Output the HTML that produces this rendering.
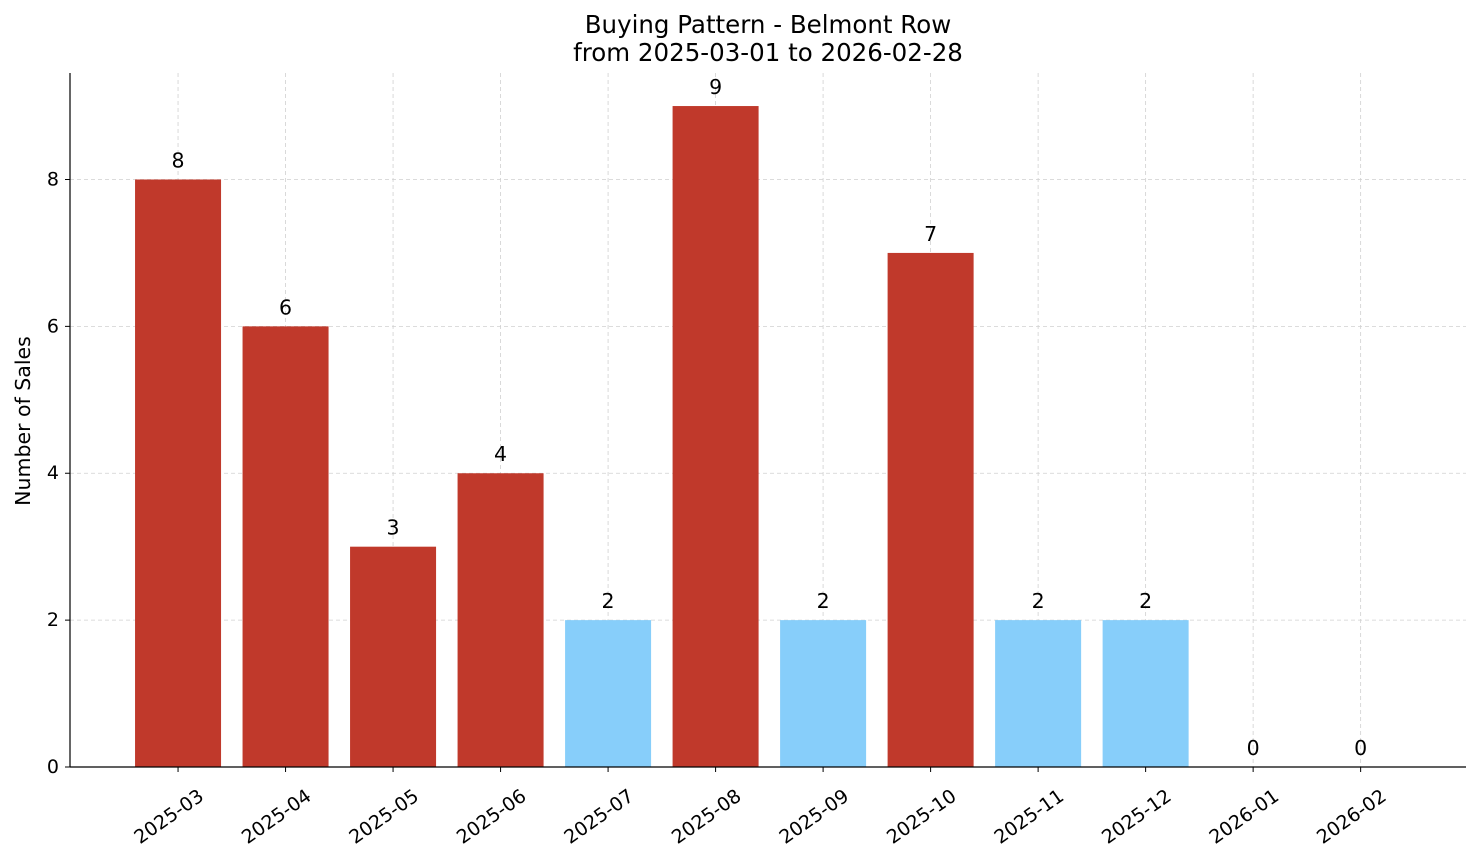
<!DOCTYPE html>
<html><head><meta charset="utf-8"><style>
body{margin:0;background:#fff;}
svg{display:block;font-family:"DejaVu Sans","Liberation Sans",sans-serif;}
</style></head><body>
<svg id="chart" width="1481" height="863">
<text x="768" y="33" text-anchor="middle" font-size="24.5">Buying Pattern - Belmont Row</text>
<text x="768" y="61" text-anchor="middle" font-size="24.5">from 2025-03-01 to 2026-02-28</text>
<text transform="translate(30,421) rotate(-90)" text-anchor="middle" font-size="20.5">Number of Sales</text>
<g id="grid"></g><g id="bars"></g><g id="axes"></g>
</svg>
<script>
const categories=["2025-03","2025-04","2025-05","2025-06","2025-07","2025-08","2025-09","2025-10","2025-11","2025-12","2026-01","2026-02"];
const values=[8,6,3,4,2,9,2,7,2,2,0,0];
const yTicks=[0,2,4,6,8];
const NS="http://www.w3.org/2000/svg";
const L=70,R=1466,T=73,B=767;
const xmin=-1.005,xmax=categories.length-0.02;
const ymax=Math.max(...values)*1.05;
const x=i=>L+(i-xmin)/(xmax-xmin)*(R-L);
const y=v=>B-v/ymax*(B-T);
const bw=0.8*(R-L)/(xmax-xmin);
function mk(tag,attrs,parent,txt){const e=document.createElementNS(NS,tag);for(const k in attrs)e.setAttribute(k,attrs[k]);if(txt!==undefined)e.textContent=txt;parent.appendChild(e);return e;}
const grid=document.getElementById('grid'),bars=document.getElementById('bars'),axes=document.getElementById('axes');
yTicks.forEach(t=>{
 const g=mk('line',{x1:L,x2:R,y1:y(t),y2:y(t),stroke:'#d0d0d0','stroke-dasharray':'4,3','stroke-width':0.8},grid);
 
 
 const tk=mk('line',{x1:L-5,x2:L,y1:y(t),y2:y(t),stroke:'#000'},axes);
 
 
 const lb=mk('text',{x:L-11,y:y(t)+6,'text-anchor':'end','font-size':19},axes,String(t));
 
 
});
categories.forEach((c,i)=>{
 const cx=x(i);
 const g=mk('line',{x1:cx,x2:cx,y1:T,y2:B,stroke:'#d0d0d0','stroke-dasharray':'4,3','stroke-width':0.8},grid);
 
 
 const v=values[i];
 const r=mk('rect',{x:cx-bw/2,y:y(v),width:bw,height:B-y(v),fill:v>=3?'#c0392b':'#87cefa'},bars);
 
 
 const vl=mk('text',{x:cx,y:y(v)-12,'text-anchor':'middle','font-size':20.5},bars,String(v));
 
 
 const tk=mk('line',{x1:cx,x2:cx,y1:B,y2:B+5,stroke:'#000'},axes);
 
 
 const lb=mk('text',{transform:`translate(${cx+27},${B+32}) rotate(-35)`,'text-anchor':'end','font-size':19},axes,c);
 
 
});
const ya=mk('line',{x1:L,x2:L,y1:T,y2:B,stroke:'#000','stroke-width':1.2},axes);


const xa=mk('line',{x1:L,x2:R,y1:B,y2:B,stroke:'#000','stroke-width':1.2},axes);


</script>
</body></html>
